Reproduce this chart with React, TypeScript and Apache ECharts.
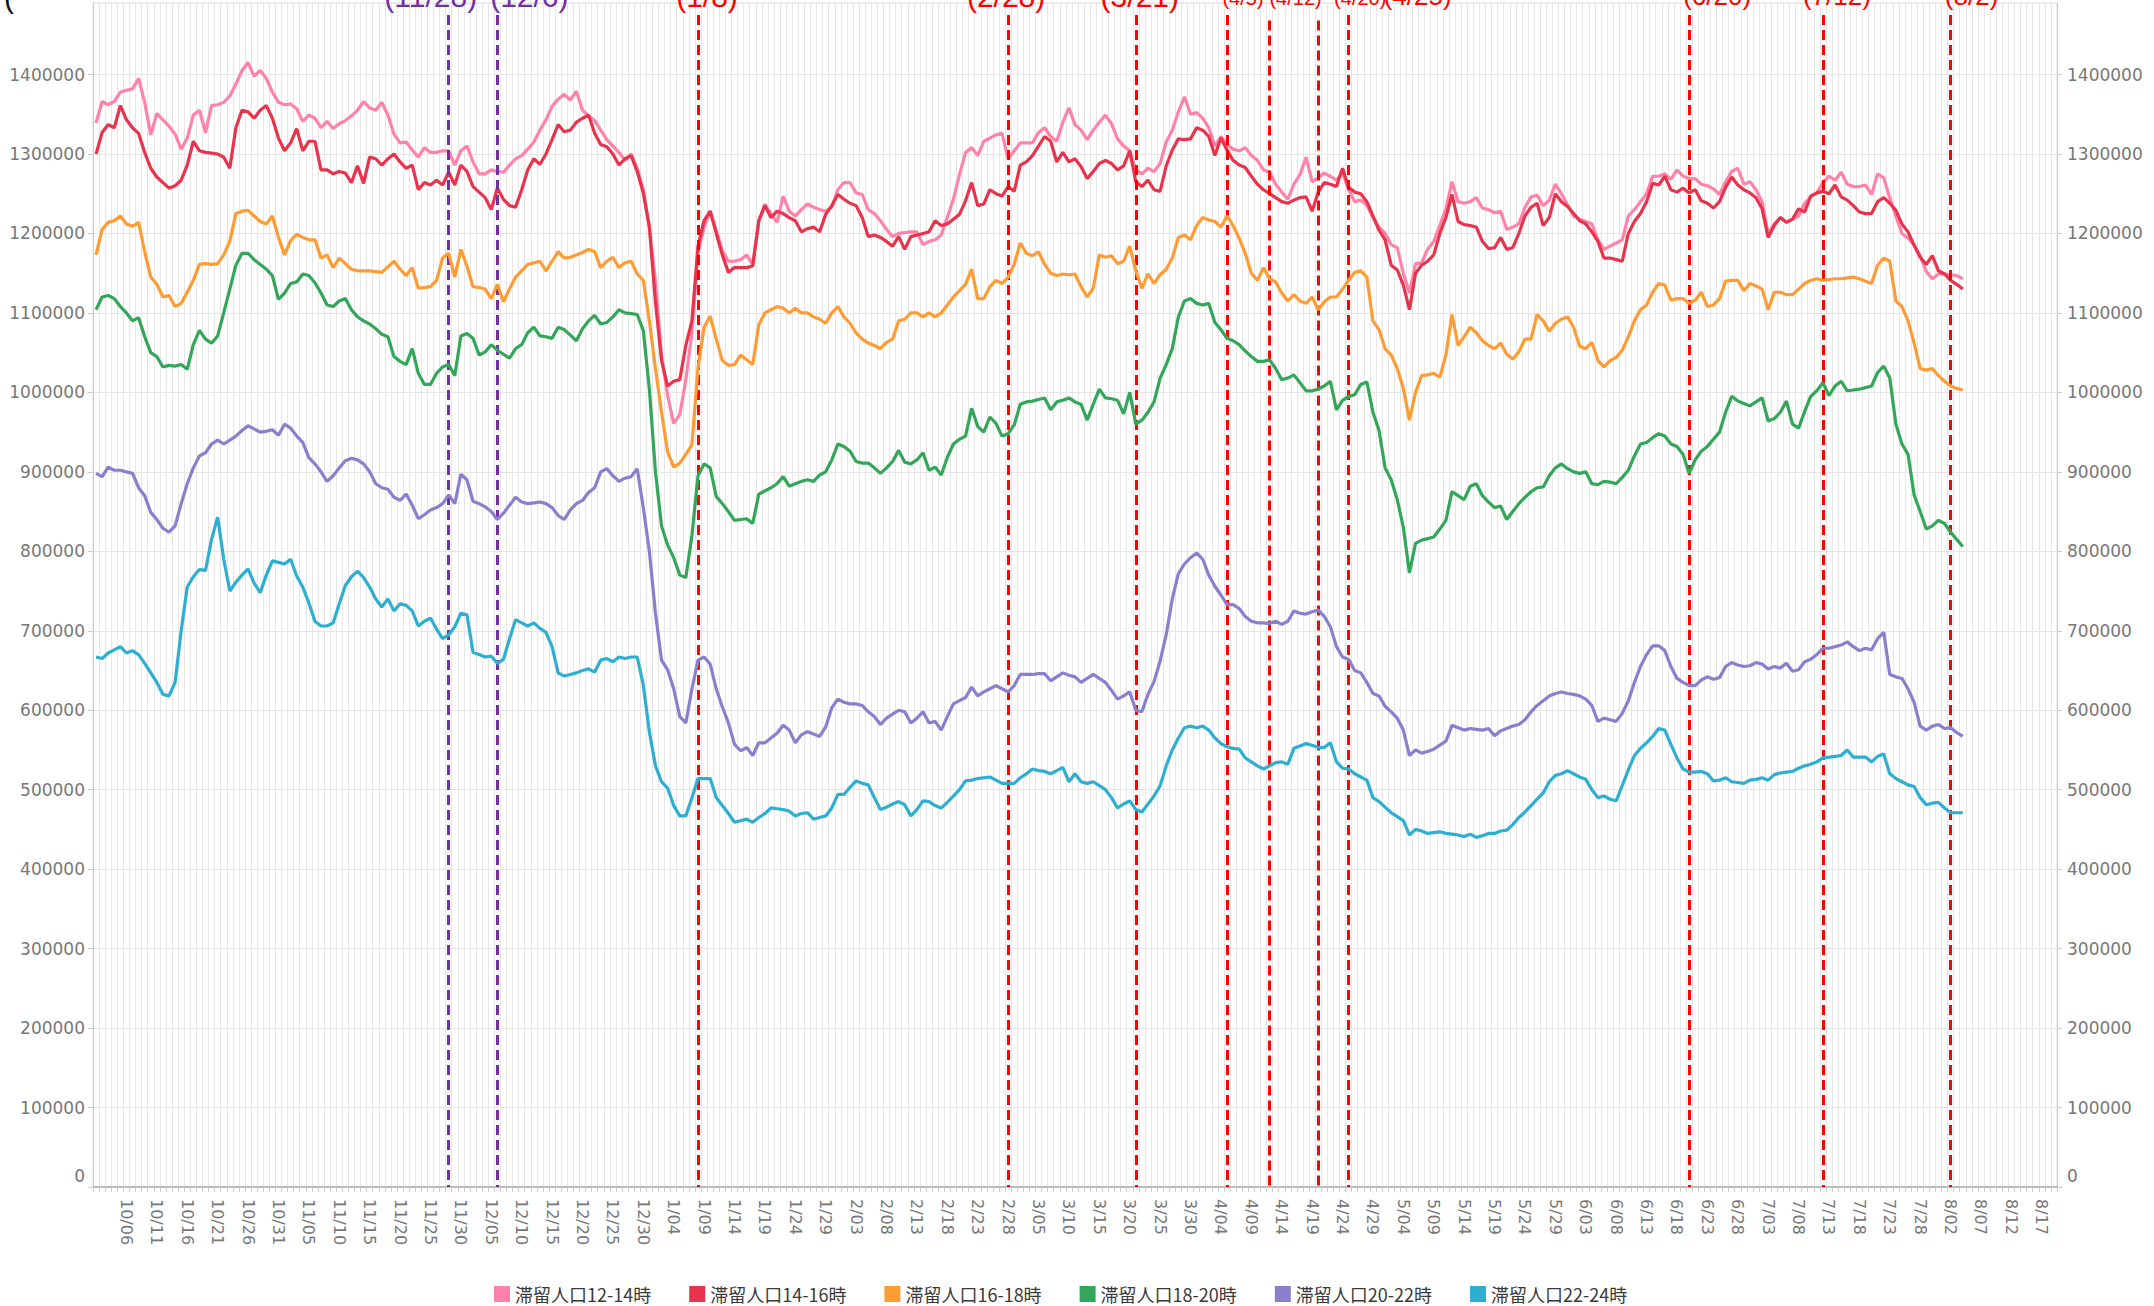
import React, { useEffect, useRef } from "react";
import * as echarts from "echarts";

// ---------- data (thousands of people), index 0 = 10/01/2020 ----------
const SERIES_NAMES = [
  "滞留人口12-14時",
  "滞留人口14-16時",
  "滞留人口16-18時",
  "滞留人口18-20時",
  "滞留人口20-22時",
  "滞留人口22-24時",
];

const pink12 = [
  1339,1366,1362,1366,1378,1380,1382,1395,1365,1324,
  1351,1343,1335,1325,1306,1320,1349,1355,1327,1361,
  1362,1365,1373,1388,1405,1415,1398,1405,1395,1378,
  1365,1362,1363,1357,1341,1349,1345,1333,1341,1332,
  1338,1342,1348,1355,1366,1358,1355,1365,1349,1325,
  1314,1315,1305,1296,1308,1302,1302,1304,1304,1286,
  1304,1310,1290,1275,1275,1280,1278,1277,1286,1294,
  1298,1306,1315,1330,1343,1360,1369,1375,1368,1379,
  1355,1348,1342,1330,1318,1310,1302,1292,1300,1282,
  1255,1208,1140,1047,996,961,972,1016,1075,1176,
  1208,1228,1204,1178,1165,1165,1167,1173,1161,1216,
  1237,1225,1214,1247,1228,1222,1230,1237,1233,1230,
  1228,1233,1255,1264,1264,1251,1249,1230,1225,1216,
  1205,1196,1200,1201,1202,1202,1186,1190,1192,1198,
  1220,1243,1274,1302,1308,1298,1316,1320,1324,1326,
  1294,1304,1314,1314,1314,1327,1333,1322,1316,1340,
  1358,1337,1330,1318,1330,1340,1349,1338,1319,1310,
  1304,1280,1275,1282,1278,1288,1315,1330,1353,1372,
  1350,1352,1345,1333,1310,1322,1312,1306,1304,1308,
  1298,1292,1280,1277,1262,1252,1243,1262,1274,1296,
  1265,1270,1276,1272,1267,1276,1255,1240,1242,1235,
  1220,1208,1200,1186,1182,1150,1125,1162,1163,1180,
  1190,1210,1231,1265,1240,1238,1240,1245,1232,1230,
  1226,1228,1205,1208,1212,1233,1246,1248,1235,1242,
  1262,1250,1236,1222,1218,1215,1212,1192,1180,1184,
  1188,1192,1222,1230,1240,1250,1272,1272,1275,1268,
  1280,1272,1269,1269,1262,1260,1256,1249,1265,1278,
  1282,1262,1265,1255,1240,1200,1212,1220,1214,1218,
  1222,1238,1246,1251,1264,1272,1267,1277,1262,1259,
  1259,1261,1249,1275,1270,1245,1222,1200,1194,1186,
  1172,1152,1143,1149,1149,1148,1147,1143,
];

const red14 = [
  1300,1327,1337,1333,1361,1343,1333,1326,1302,1282,
  1271,1264,1257,1260,1267,1286,1316,1304,1302,1301,
  1300,1296,1282,1333,1355,1353,1345,1355,1361,1345,
  1320,1304,1314,1332,1304,1316,1316,1280,1280,1275,
  1278,1276,1264,1285,1263,1296,1294,1286,1294,1300,
  1290,1282,1286,1255,1264,1261,1267,1261,1277,1261,
  1286,1278,1259,1252,1245,1230,1257,1243,1235,1233,
  1255,1280,1294,1287,1300,1318,1337,1328,1330,1340,
  1345,1349,1326,1312,1309,1300,1286,1294,1298,1278,
  1251,1208,1114,1040,1008,1014,1016,1059,1090,1184,
  1216,1228,1200,1173,1151,1157,1157,1157,1159,1216,
  1235,1220,1228,1225,1220,1216,1202,1206,1208,1202,
  1224,1235,1249,1243,1238,1235,1220,1196,1198,1195,
  1190,1184,1196,1180,1196,1198,1200,1202,1216,1210,
  1212,1218,1224,1241,1264,1235,1237,1255,1250,1247,
  1259,1253,1286,1290,1298,1310,1322,1316,1290,1302,
  1290,1294,1284,1269,1278,1288,1292,1288,1280,1285,
  1304,1265,1259,1267,1255,1253,1285,1305,1319,1318,
  1319,1333,1330,1322,1298,1320,1305,1292,1286,1283,
  1272,1262,1255,1250,1245,1240,1238,1242,1245,1246,
  1228,1252,1264,1262,1259,1282,1258,1252,1250,1240,
  1222,1204,1192,1160,1154,1135,1104,1150,1160,1165,
  1173,1200,1220,1249,1215,1211,1210,1208,1190,1181,
  1182,1195,1180,1182,1200,1222,1233,1238,1210,1220,
  1250,1240,1234,1225,1216,1212,1202,1190,1169,1169,
  1167,1165,1200,1215,1225,1240,1263,1261,1272,1255,
  1252,1257,1251,1255,1241,1238,1232,1240,1258,1271,
  1261,1255,1251,1245,1231,1195,1210,1220,1214,1218,
  1231,1227,1247,1251,1253,1250,1261,1246,1242,1235,
  1227,1225,1225,1240,1245,1238,1229,1212,1202,1185,
  1170,1161,1172,1153,1149,1141,1136,1130,
];

const orange16 = [
  1173,1205,1214,1216,1222,1212,1209,1214,1177,1145,
  1136,1120,1122,1108,1112,1126,1141,1161,1162,1161,
  1162,1173,1190,1225,1228,1229,1222,1215,1212,1222,
  1195,1173,1191,1199,1195,1192,1192,1169,1173,1157,
  1169,1162,1155,1153,1153,1153,1152,1151,1158,1165,
  1155,1147,1157,1131,1132,1133,1141,1169,1175,1145,
  1180,1159,1133,1132,1130,1118,1136,1114,1130,1145,
  1153,1161,1163,1165,1153,1165,1177,1169,1170,1173,
  1176,1180,1177,1157,1165,1170,1157,1163,1165,1149,
  1141,1090,1030,975,925,906,911,922,934,1031,
  1082,1096,1067,1040,1034,1035,1047,1041,1035,1085,
  1100,1104,1108,1106,1100,1106,1100,1100,1095,1092,
  1087,1100,1108,1095,1087,1075,1067,1062,1059,1055,
  1063,1067,1090,1092,1100,1100,1095,1100,1095,1100,
  1110,1120,1128,1136,1155,1118,1118,1133,1141,1137,
  1145,1161,1188,1175,1172,1177,1161,1150,1147,1149,
  1148,1149,1133,1120,1131,1173,1170,1172,1162,1165,
  1184,1153,1131,1149,1137,1148,1155,1169,1195,1198,
  1192,1210,1220,1217,1215,1208,1222,1210,1194,1175,
  1150,1141,1157,1143,1139,1125,1115,1123,1115,1112,
  1120,1104,1114,1120,1120,1130,1141,1151,1153,1145,
  1090,1079,1055,1047,1030,1005,965,1000,1021,1022,
  1024,1019,1047,1098,1059,1070,1082,1075,1065,1059,
  1055,1062,1048,1042,1051,1067,1067,1098,1090,1077,
  1087,1092,1095,1082,1058,1055,1063,1040,1032,1040,
  1044,1053,1070,1090,1104,1110,1126,1137,1135,1116,
  1118,1118,1112,1116,1126,1108,1110,1118,1140,1141,
  1141,1128,1137,1134,1130,1104,1126,1126,1123,1123,
  1130,1137,1141,1143,1141,1142,1143,1143,1144,1145,
  1143,1140,1137,1160,1169,1165,1115,1108,1090,1062,
  1030,1028,1030,1021,1014,1008,1005,1003,
];

const green18 = [
  1104,1120,1122,1118,1108,1100,1090,1094,1070,1050,
  1045,1032,1034,1033,1035,1029,1060,1078,1067,1062,
  1071,1100,1130,1160,1175,1175,1167,1161,1155,1147,
  1117,1125,1137,1139,1149,1147,1138,1125,1110,1108,
  1115,1118,1104,1095,1090,1086,1080,1073,1070,1045,
  1039,1035,1055,1024,1010,1010,1024,1032,1035,1021,
  1071,1074,1068,1047,1051,1060,1053,1048,1043,1055,
  1060,1075,1082,1071,1070,1068,1082,1079,1072,1065,
  1080,1090,1097,1086,1088,1095,1104,1100,1099,1098,
  1078,1004,900,832,808,792,770,767,820,895,
  910,905,869,860,850,839,840,841,835,872,
  876,880,885,894,882,885,888,890,888,896,
  900,915,935,932,926,913,911,911,905,898,
  905,913,927,912,910,915,924,902,906,896,
  918,935,941,945,980,957,950,969,961,945,
  948,959,985,988,989,991,993,978,988,990,
  993,988,985,965,985,1004,993,992,990,973,
  1000,960,965,975,988,1018,1035,1055,1095,1115,
  1118,1112,1110,1112,1088,1079,1068,1065,1060,1052,
  1045,1039,1039,1041,1030,1016,1018,1022,1012,1002,
  1002,1004,1008,1014,978,990,995,997,1010,1013,
  975,952,905,890,865,830,773,810,814,816,
  818,828,839,875,870,865,882,885,870,862,
  855,857,840,850,860,868,875,880,881,895,
  905,910,904,900,898,900,885,884,888,887,
  885,893,902,920,935,937,943,948,945,935,
  932,922,898,915,926,932,941,950,975,995,
  989,986,983,988,993,964,967,975,989,960,
  955,976,995,1002,1012,996,1008,1014,1002,1003,
  1004,1006,1008,1025,1033,1018,960,935,922,871,
  850,828,832,839,835,824,815,806,
];

const purple20 = [
  898,894,906,902,902,900,898,880,870,849,
  840,829,824,832,860,885,905,920,924,935,
  940,935,940,945,952,958,954,950,951,953,
  946,960,955,945,937,918,910,900,888,895,
  905,914,917,915,910,900,885,880,878,868,
  864,872,858,841,846,852,855,860,871,860,
  897,890,863,860,856,850,840,848,858,868,
  862,860,861,862,860,855,845,840,852,860,
  864,874,880,900,904,895,888,892,894,904,
  855,800,722,663,651,627,592,584,627,663,
  667,658,627,604,584,557,549,553,543,559,
  559,565,571,581,575,559,569,573,570,567,
  579,603,614,610,608,608,606,598,592,582,
  590,595,600,598,584,590,598,584,586,575,
  592,608,612,616,629,618,623,627,631,627,
  623,631,645,645,645,646,646,637,642,647,
  644,642,635,640,645,640,635,625,614,618,
  623,600,598,620,636,662,695,740,772,784,
  792,798,790,770,756,745,733,733,728,718,
  712,710,710,709,712,708,712,725,722,721,
  724,726,718,705,680,667,664,650,647,635,
  621,618,605,598,590,575,543,550,546,548,
  551,556,561,581,578,575,577,576,575,577,
  568,574,577,580,582,588,598,606,612,618,
  621,623,621,620,618,614,606,586,590,588,
  586,596,612,635,655,670,681,681,675,655,
  640,635,631,631,638,642,639,641,655,660,
  657,655,656,660,658,652,655,653,659,649,
  651,661,664,670,678,678,680,682,686,680,
  675,678,676,690,698,645,642,640,627,610,
  580,575,580,582,577,578,572,567,
];

const cyan22 = [
  667,665,672,676,680,672,675,670,659,647,
  635,620,618,635,700,755,768,777,776,815,
  843,790,750,761,770,778,760,748,770,788,
  786,784,790,769,755,735,712,706,706,710,
  734,757,768,775,767,755,740,730,740,725,
  734,732,725,706,712,716,702,690,695,705,
  722,720,673,670,667,668,659,664,690,714,
  710,706,710,703,698,680,647,643,645,647,
  650,652,648,663,665,661,667,665,667,667,
  632,573,530,510,502,480,467,467,490,514,
  514,514,490,480,470,459,461,463,459,465,
  470,477,476,475,473,467,470,471,463,465,
  467,477,494,494,503,511,508,506,490,475,
  478,482,485,481,467,475,486,485,480,477,
  484,492,500,511,512,514,515,516,512,508,
  508,508,515,520,526,524,523,520,524,528,
  510,520,510,508,510,505,500,490,477,482,
  486,475,472,482,492,505,530,550,565,578,
  580,578,580,575,565,558,554,552,551,540,
  535,530,526,530,534,535,532,552,555,558,
  556,553,553,559,535,527,526,520,516,512,
  490,485,478,471,466,461,443,450,448,445,
  446,447,445,444,443,441,444,440,442,445,
  445,448,449,456,465,472,480,488,496,510,
  518,520,524,520,516,513,500,490,492,488,
  486,505,525,543,552,559,567,577,575,557,
  540,526,522,522,523,520,511,512,515,510,
  509,508,512,513,515,512,519,521,522,523,
  527,530,532,535,540,541,542,543,550,541,
  541,541,535,542,545,520,514,510,506,504,
  490,481,483,484,477,471,471,471,
];

const SERIES_VALUES = [pink12, red14, orange16, green18, purple20, cyan22];
const SERIES_COLORS = ["#ff82a9", "#e8334d", "#fd9c35", "#33a65a", "#8a7fcc", "#2eaed0"];

// axis categories: every day from 2020-10-01 to 2021-08-19
const FIRST_DAY = Date.UTC(2020, 9, 1);
const DAY_COUNT = 323;
const categories: string[] = [];
for (let i = 0; i < DAY_COUNT; i++) {
  const d = new Date(FIRST_DAY + i * 86400000);
  categories.push(`${d.getUTCMonth() + 1}/${String(d.getUTCDate()).padStart(2, "0")}`);
}

// event markers
const EVENT_DATES = ["11/28", "12/06", "1/08", "2/28", "3/21", "4/05", "4/12", "4/20", "4/25", "6/20", "7/12", "8/02"];
const EVENT_LABELS = ["(11/28)", "(12/6)", "(1/8)", "(2/28)", "(3/21)", "(4/5)", "(4/12)", "(4/20)", "(4/25)", "(6/20)", "(7/12)", "(8/2)"];
const PURPLE = "#7030a0";
const RED = "#ff0000";
const EVENT_COLORS = [PURPLE, PURPLE, RED, RED, RED, RED, RED, RED, RED, RED, RED, RED];
// styling of event labels
const EVENT_FONT = [30, 30, 30, 30, 30, 20, 20, 20, 26, 26, 26, 26];
const EVENT_DX = [-18, 32, 9, -2, 4, 16, 26, 42, 69, 28, 14, 21];
const EVENT_LINE_TOP = [1475000, 1475000, 1475000, 1475000, 1475000, 1475000, 1468000, 1468000, 1475000, 1475000, 1475000, 1475000];

const AXIS_FONT = "DejaVu Sans";

export default function App() {
  const ref = useRef<HTMLDivElement>(null);

  useEffect(() => {
    document.body.style.margin = "0";
    if (!ref.current) return;
    const chart = echarts.init(ref.current, null, { renderer: "svg" });

    const yLabel = {
      fontSize: 17,
      color: "#777",
      fontFamily: AXIS_FONT,
      showMaxLabel: false,
      formatter: (v: number) => (v === 0 ? "{z|0}" : String(v)),
      rich: { z: { fontSize: 17, color: "#777", fontFamily: AXIS_FONT, padding: [0, 0, 22, 0] } },
    };

    const series: any[] = SERIES_NAMES.map((name, k) => ({
      name,
      type: "line",
      data: SERIES_VALUES[k].map((v) => v * 1000),
      showSymbol: false,
      symbol: "none",
      lineStyle: { width: 3.2, color: SERIES_COLORS[k] },
      itemStyle: { color: SERIES_COLORS[k] },
      z: 3 + k,
    }));

    series.push({
      name: "events",
      type: "line",
      data: [],
      silent: true,
      z: 10,
      markLine: {
        silent: true,
        symbol: ["none", "none"],
        label: { show: false },
        animation: false,
        data: EVENT_DATES.map((d, k) => [
          { coord: [d, EVENT_LINE_TOP[k]], lineStyle: { color: EVENT_COLORS[k], width: 3, type: [10, 5] } },
          { coord: [d, 0] },
        ]),
      },
    });

    chart.setOption({
      animation: false,
      backgroundColor: "#ffffff",
      grid: {
        left: 93,
        right: 97,
        top: 3,
        bottom: 119,
        show: true,
        borderColor: "#dddddd",
        borderWidth: 1,
        backgroundColor: "#ffffff",
      },
      legend: {
        data: SERIES_NAMES,
        left: 489,
        top: 1280,
        icon: "rect",
        itemWidth: 16,
        itemHeight: 16,
        itemGap: 38,
        textStyle: { fontSize: 18, color: "#3a3a3a", fontFamily: "Noto Sans CJK JP" },
      },
      xAxis: {
        type: "category",
        data: categories,
        boundaryGap: true,
        axisLine: { show: true, lineStyle: { color: "#bbbbbb", width: 2 } },
        axisTick: { show: true, interval: 0, length: 5, lineStyle: { color: "#cccccc" } },
        axisLabel: {
          interval: (index: number) => index % 5 === 0 && index > 0,
          rotate: -90,
          fontSize: 16,
          color: "#777",
          fontFamily: AXIS_FONT,
          margin: 12,
        },
        splitLine: { show: true, interval: 0, lineStyle: { color: "#e6e6e6", width: 1 } },
      },
      yAxis: [
        {
          type: "value",
          min: 0,
          max: 1490000,
          interval: 100000,
          position: "left",
          axisLine: { show: true, lineStyle: { color: "#cccccc" } },
          axisTick: { show: true, length: 5, lineStyle: { color: "#cccccc" } },
          axisLabel: { ...yLabel, margin: 8 },
          splitLine: { show: true, lineStyle: { color: "#e6e6e6" } },
        },
        {
          type: "value",
          min: 0,
          max: 1490000,
          interval: 100000,
          position: "right",
          axisLine: { show: true, lineStyle: { color: "#cccccc" } },
          axisTick: { show: true, length: 5, lineStyle: { color: "#cccccc" } },
          axisLabel: { ...yLabel, margin: 10 },
          splitLine: { show: false },
        },
      ],
      series,
    });

    // event captions at the top of the dashed lines (cut by the top edge, as in the source image)
    const elements: any[] = EVENT_DATES.map((d, k) => {
      const px = chart.convertToPixel({ xAxisIndex: 0 }, categories.indexOf(d)) as number;
      return {
        type: "text",
        x: px + EVENT_DX[k],
        y: EVENT_FONT[k] >= 30 ? -4 : EVENT_FONT[k] >= 26 ? -4 : -2,
        silent: true,
        style: {
          text: EVENT_LABELS[k],
          fill: EVENT_COLORS[k],
          fontSize: EVENT_FONT[k],
          fontFamily: "Liberation Sans",
          align: "center",
          verticalAlign: "middle",
        },
      };
    });
    elements.push({
      type: "text",
      x: 4,
      y: -3,
      silent: true,
      style: { text: "(", fill: "#111", fontSize: 30, fontFamily: "Liberation Sans", align: "left", verticalAlign: "middle" },
    });
    chart.setOption({ graphic: { elements } });

    return () => chart.dispose();
  }, []);

  return <div ref={ref} style={{ position: "absolute", left: 0, top: 0, width: 2154, height: 1306 }} />;
}
